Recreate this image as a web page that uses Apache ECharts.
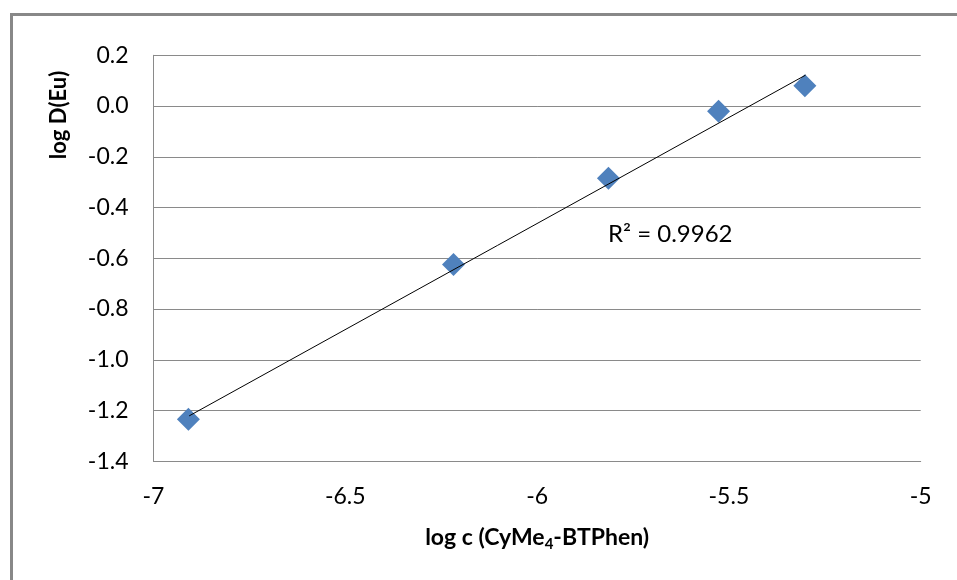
<!DOCTYPE html>
<html>
<head>
<meta charset="utf-8">
<script src="https://cdn.jsdelivr.net/npm/echarts@6/dist/echarts.min.js"></script>
<style>
  html, body { margin: 0; padding: 0; background: #fff; }
  #chart { width: 957px; height: 580px; }
</style>
</head>
<body>
<div id="chart"></div>
<script>
// measured points, log c vs log D(Eu)
const logC = [-6.909, -6.218, -5.814, -5.527, -5.302]
const logD = [-1.234, -0.624, -0.285, -0.020, 0.080]

// linear trendline ends
const trendX = [-6.907, -5.300]
const trendY = [-1.221, 0.122]

const rSquared = '0.9962'

const fontFamily = 'Lato, "Open Sans", sans-serif'
const gridColor = '#8a8a8a'

const chart = echarts.init(document.getElementById('chart'))

const option = {
  animation: false,
  backgroundColor: '#fff',
  grid: { left: 153.5, right: 36.3, top: 55.3, bottom: 118.7 },
  xAxis: {
    type: 'value',
    min: -7,
    max: -5,
    interval: 0.5,
    name: '{b|log c (CyMe}{s|4}{b|-BTPhen)}',
    nameLocation: 'middle',
    nameGap: 76,
    nameTextStyle: {
      verticalAlign: 'middle',
      rich: {
        b: { fontFamily, fontSize: 23, fontWeight: 'bold', color: '#000' },
        s: { fontFamily, fontSize: 15, fontWeight: 'bold', color: '#000', verticalAlign: 'bottom', padding: [13, 0, 0, 0] }
      }
    },
    axisLine: { show: true, onZero: false, lineStyle: { color: gridColor, width: 1 } },
    axisTick: { show: false },
    splitLine: { show: false },
    axisLabel: { color: '#000', fontFamily, fontSize: 23, margin: 24 }
  },
  yAxis: {
    type: 'value',
    min: -1.4,
    max: 0.2,
    interval: 0.2,
    axisLine: { show: true, onZero: false, lineStyle: { color: gridColor, width: 1 } },
    axisTick: { show: false },
    splitLine: { show: true, lineStyle: { color: gridColor, width: 1 } },
    axisLabel: {
      color: '#000',
      fontFamily,
      fontSize: 23,
      margin: 25,
      formatter: v => v.toFixed(1)
    }
  },
  graphic: [
    {
      type: 'rect',
      left: 9,
      top: 12,
      shape: { width: 980, height: 600 },
      style: { fill: 'none', stroke: '#888', lineWidth: 3 },
      silent: true
    },
    {
      type: 'text',
      x: 59,
      y: 115,
      rotation: Math.PI / 2,
      style: {
        text: 'log D(Eu)',
        fontFamily,
        fontSize: 22,
        fontWeight: 'bold',
        fill: '#000',
        align: 'center',
        verticalAlign: 'middle'
      }
    },
    {
      type: 'text',
      x: 608,
      y: 234,
      style: {
        text: 'R² = ' + rSquared,
        fontFamily,
        fontSize: 24,
        fill: '#000',
        align: 'left',
        verticalAlign: 'middle'
      }
    }
  ],
  series: [
    {
      type: 'line',
      data: trendX.map((x, i) => [x, trendY[i]]),
      showSymbol: false,
      lineStyle: { color: '#000', width: 1 },
      z: 3
    },
    {
      type: 'scatter',
      data: logC.map((x, i) => [x, logD[i]]),
      symbol: 'diamond',
      symbolSize: 23,
      itemStyle: { color: '#4f81bd', opacity: 1 },
      z: 2
    }
  ]
}

chart.setOption(option)
</script>
</body>
</html>
